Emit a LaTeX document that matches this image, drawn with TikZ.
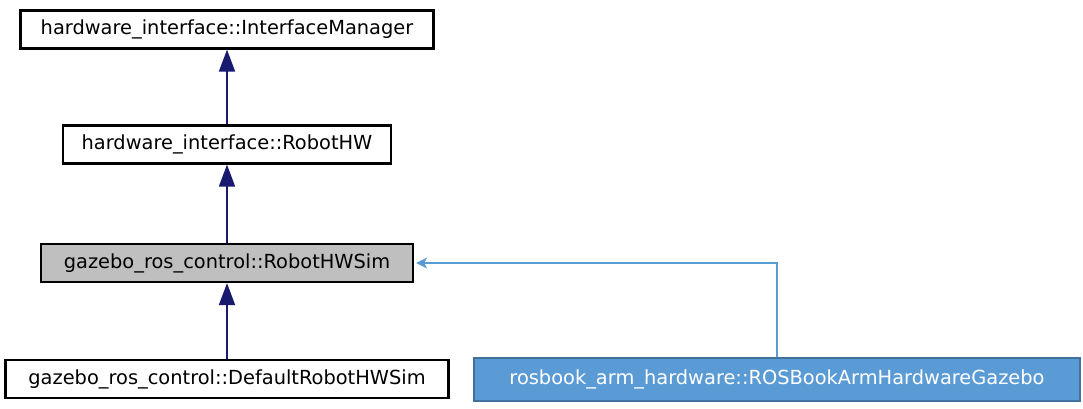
\documentclass[tikz,border=0pt]{standalone}
\usepackage{fontspec}
\setmainfont{DejaVu Sans}
\usetikzlibrary{arrows.meta}
\definecolor{navy}{HTML}{191970}
\definecolor{bluefill}{HTML}{5B9BD5}
\definecolor{blueedge}{HTML}{41719C}
\definecolor{grayfill}{HTML}{BFBFBF}
\begin{document}
\begin{tikzpicture}[x=1pt,y=-1pt,
  cls/.style={draw=black,line width=2.2pt,fill=white,minimum height=38pt,inner xsep=0pt,font=\fontsize{19.4}{22}\selectfont,anchor=center},
  cur/.style={cls,fill=grayfill},
  ext/.style={draw=blueedge,line width=2pt,fill=bluefill,text=white,minimum height=43pt,inner xsep=0pt,font=\fontsize{19.4}{22}\selectfont},
  inh/.style={draw=navy,line width=1.8pt,-{Triangle[width=16pt,length=22pt]}},
  inh2/.style={draw=bluefill,line width=1.6pt,-{Stealth[width=11pt,length=11pt,inset=3pt]},shorten >=2pt}]
\useasboundingbox (0,0) rectangle (1083,408);
\node[cls,minimum width=413pt] (im) at (227,29.5) {hardware\_interface::InterfaceManager};
\node[cls,minimum width=328pt] (rhw) at (227,144.5) {hardware\_interface::RobotHW};
\node[cur,minimum width=372pt] (sim) at (227,263) {gazebo\_ros\_control::RobotHWSim};
\node[cls,minimum width=443pt] (def) at (227,379) {gazebo\_ros\_control::DefaultRobotHWSim};
\node[ext,minimum width=606pt] (ros) at (777,379) {rosbook\_arm\_hardware::ROSBookArmHardwareGazebo};
\draw[inh] (rhw.north) -- (im.south);
\draw[inh] (sim.north) -- (rhw.south);
\draw[inh] (def.north) -- (sim.south);
\draw[inh2] (ros.north) |- (sim.east);
\end{tikzpicture}
\end{document}
